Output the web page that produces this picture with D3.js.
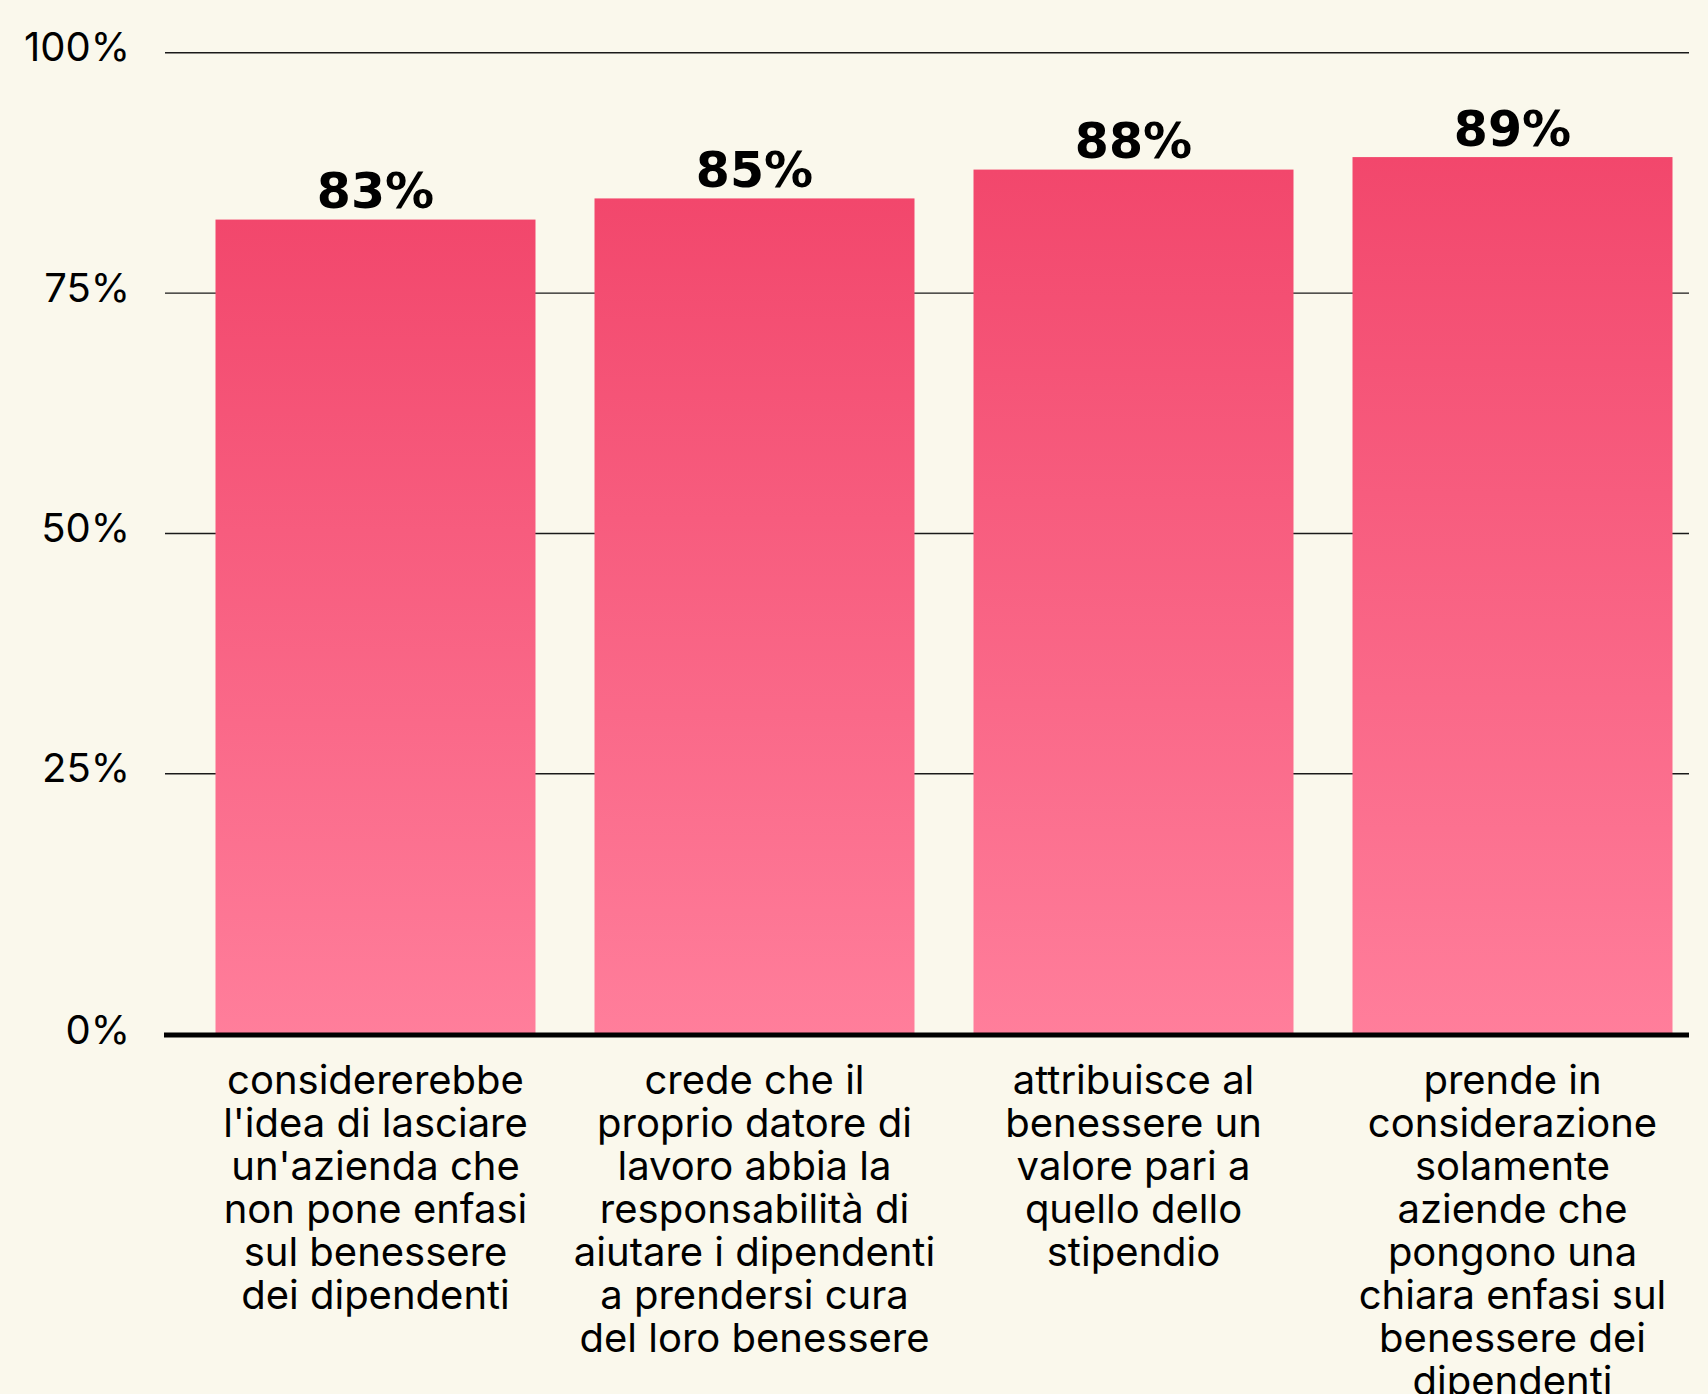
<!DOCTYPE html>
<html>
<head>
<meta charset="utf-8">
<script src="https://cdn.jsdelivr.net/npm/d3@7"></script>
<style>
  html, body { margin: 0; padding: 0; background: #FAF8EC; }
  svg { display: block; }
</style>
</head>
<body>
<div id="chart"></div>
<script>
const categories = [
  "considererebbe\nl'idea di lasciare\nun'azienda che\nnon pone enfasi\nsul benessere\ndei dipendenti",
  "crede che il\nproprio datore di\nlavoro abbia la\nresponsabilità di\naiutare i dipendenti\na prendersi cura\ndel loro benessere",
  "attribuisce al\nbenessere un\nvalore pari a\nquello dello\nstipendio",
  "prende in\nconsiderazione\nsolamente\naziende che\npongono una\nchiara enfasi sul\nbenessere dei\ndipendenti"
];
const values = [82.6, 84.8, 87.8, 89.1];
const yTicks = [0, 25, 50, 75, 100];
const yTickLabels = ["0%", "25%", "50%", "75%", "100%"];

const W = 1708, H = 1394;
const plotLeft = 165, plotRight = 1689;

const svg = d3.select("#chart").append("svg").attr("width", W).attr("height", H);
svg.append("rect").attr("width", W).attr("height", H).attr("fill", "#FAF8EC");

const defs = svg.append("defs");
const grad = defs.append("linearGradient").attr("id", "barGrad")
  .attr("x1", 0).attr("y1", 0).attr("x2", 0).attr("y2", 1);
grad.append("stop").attr("offset", "0%").attr("stop-color", "#F2476C");
grad.append("stop").attr("offset", "100%").attr("stop-color", "#FF7E9B");

// piecewise: bars rest on the baseline, gridlines evenly spaced above 25%
const y = d3.scaleLinear().domain([0, 25, 100]).range([1035, 773.3, 52.3]);
const x = d3.scaleBand().domain(categories).range([215.5, 1672.5]).paddingInner(0.1557).paddingOuter(0);

// gridlines
const grid = svg.append("g").attr("transform", `translate(${plotLeft},0)`)
  .call(d3.axisLeft(y).tickValues(yTicks.filter(d => d > 0)).tickSize(-(plotRight - plotLeft)).tickFormat(""));
grid.select(".domain").remove();
grid.selectAll(".tick line").attr("stroke", "#1a1a1a").attr("stroke-width", 1.4);

// y labels
const yAxis = svg.append("g").attr("transform", `translate(${plotLeft},0)`)
  .call(d3.axisLeft(y).tickValues(yTicks).tickSize(0).tickPadding(35)
    .tickFormat((d, i) => yTickLabels[i]));
yAxis.select(".domain").remove();
yAxis.selectAll(".tick text")
  .attr("font-family", "Inter, sans-serif").attr("font-size", 40)
  .attr("fill", "#000").attr("dy", "0.21em");

// bars
svg.append("g").selectAll("rect").data(values).join("rect")
  .attr("x", (d, i) => x(categories[i]))
  .attr("width", x.bandwidth())
  .attr("y", d => y(d))
  .attr("height", d => y(0) - y(d))
  .attr("fill", "url(#barGrad)");

// baseline
svg.append("line").attr("x1", plotLeft - 1).attr("x2", plotRight)
  .attr("y1", y(0)).attr("y2", y(0)).attr("stroke", "#000").attr("stroke-width", 5);

// value labels
svg.append("g").selectAll("text").data(values).join("text")
  .attr("x", (d, i) => x(categories[i]) + x.bandwidth() / 2)
  .attr("y", d => y(d) - 11.5)
  .attr("text-anchor", "middle")
  .attr("font-family", "'DejaVu Sans', sans-serif").attr("font-weight", "bold")
  .attr("font-size", 49).attr("fill", "#000")
  .text(d => d3.format(".0f")(d) + "%");

// category labels
const xAxis = svg.append("g").attr("transform", `translate(0,${y(0)})`)
  .call(d3.axisBottom(x).tickSize(0).tickFormat(""));
xAxis.select(".domain").remove();
xAxis.selectAll(".tick").each(function (d) {
  const t = d3.select(this).append("text")
    .attr("text-anchor", "middle").attr("fill", "#000")
    .attr("font-family", "Inter, sans-serif").attr("font-size", 40);
  d.split("\n").forEach((line, j) => {
    t.append("tspan").attr("x", 0).attr("y", 59.3 + j * 43).text(line);
  });
});
</script>
</body>
</html>
